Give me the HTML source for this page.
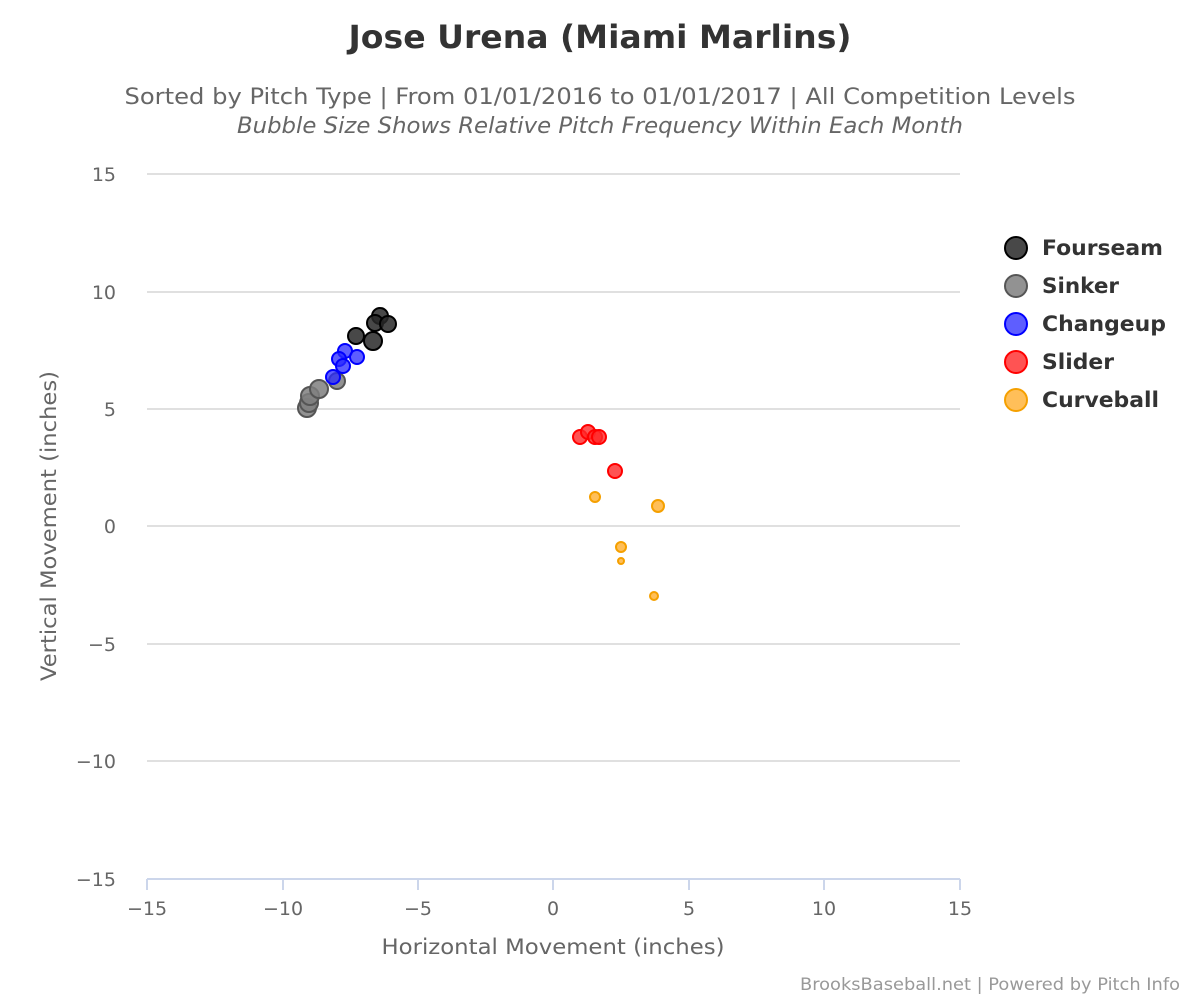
<!DOCTYPE html>
<html><head><meta charset="utf-8"><style>body{margin:0;background:#fff}svg{display:block}text{font-family:"DejaVu Sans","Liberation Sans",sans-serif}</style></head><body>
<svg width="1200" height="1000" xmlns="http://www.w3.org/2000/svg">
<text x="600" y="48" text-anchor="middle" font-size="32" font-weight="bold" fill="#333" textLength="503" lengthAdjust="spacingAndGlyphs">Jose Urena (Miami Marlins)</text>
<text x="600" y="104" text-anchor="middle" font-size="22" fill="#666" textLength="951" lengthAdjust="spacingAndGlyphs">Sorted by Pitch Type | From 01/01/2016 to 01/01/2017 | All Competition Levels</text>
<text x="600" y="133" text-anchor="middle" font-size="22" font-style="italic" fill="#666" textLength="726" lengthAdjust="spacingAndGlyphs">Bubble Size Shows Relative Pitch Frequency Within Each Month</text>
<g stroke="#e0e0e0" stroke-width="2">
<line x1="147" x2="960" y1="174" y2="174"/><line x1="147" x2="960" y1="292" y2="292"/><line x1="147" x2="960" y1="409" y2="409"/><line x1="147" x2="960" y1="526" y2="526"/><line x1="147" x2="960" y1="644" y2="644"/><line x1="147" x2="960" y1="761" y2="761"/></g>
<g stroke="#ccd6eb" stroke-width="2"><line x1="147" x2="960" y1="879" y2="879"/>
<line x1="147" x2="147" y1="879" y2="890"/><line x1="283" x2="283" y1="879" y2="890"/><line x1="418" x2="418" y1="879" y2="890"/><line x1="553" x2="553" y1="879" y2="890"/><line x1="689" x2="689" y1="879" y2="890"/><line x1="824" x2="824" y1="879" y2="890"/><line x1="960" x2="960" y1="879" y2="890"/></g>
<g font-size="19" fill="#666" text-anchor="end">
<text x="116" y="181">15</text><text x="116" y="299">10</text><text x="116" y="416">5</text><text x="116" y="533">0</text><text x="116" y="651">−5</text><text x="116" y="768">−10</text><text x="116" y="886">−15</text></g>
<g font-size="19" fill="#666" text-anchor="middle">
<text x="147" y="915">−15</text><text x="283" y="915">−10</text><text x="418" y="915">−5</text><text x="553" y="915">0</text><text x="689" y="915">5</text><text x="824" y="915">10</text><text x="960" y="915">15</text></g>
<text x="553" y="954" text-anchor="middle" font-size="21" fill="#666" textLength="343" lengthAdjust="spacingAndGlyphs">Horizontal Movement (inches)</text>
<text transform="translate(56,526) rotate(-90)" text-anchor="middle" font-size="21" fill="#666" textLength="310" lengthAdjust="spacingAndGlyphs">Vertical Movement (inches)</text>
<g fill="rgba(127,127,127,0.85)" stroke="#555" stroke-width="2">
<circle cx="307" cy="408" r="9"/><circle cx="309" cy="403" r="9"/><circle cx="310" cy="396" r="9"/><circle cx="319" cy="389" r="9"/><circle cx="337" cy="381" r="8"/></g>
<g fill="rgba(40,40,40,0.85)" stroke="#000" stroke-width="2">
<circle cx="380" cy="316" r="8"/><circle cx="375" cy="323" r="8"/><circle cx="388" cy="324" r="8"/><circle cx="356" cy="336" r="8"/><circle cx="373" cy="341" r="9"/></g>
<g fill="rgba(40,40,255,0.75)" stroke="#00f" stroke-width="2">
<circle cx="345" cy="351" r="7"/><circle cx="339" cy="359" r="7"/><circle cx="357" cy="357" r="7"/><circle cx="343" cy="366" r="7"/><circle cx="333" cy="377" r="7"/></g>
<g fill="rgba(255,40,40,0.8)" stroke="#f00" stroke-width="2">
<circle cx="580" cy="437" r="7"/><circle cx="588" cy="432" r="7"/><circle cx="595" cy="437" r="7"/><circle cx="599" cy="437" r="7"/><circle cx="615" cy="471" r="7"/></g>
<g fill="rgba(255,180,60,0.85)" stroke="#f5a000" stroke-width="2">
<circle cx="595" cy="497" r="5"/><circle cx="658" cy="506" r="6"/><circle cx="621" cy="547" r="5"/><circle cx="621" cy="561" r="3"/><circle cx="654" cy="596" r="4"/></g>
<g font-size="21" font-weight="bold" fill="#333">
<circle cx="1016" cy="248" r="11" fill="rgba(40,40,40,0.85)" stroke="#000" stroke-width="2"/><text x="1042" y="255" textLength="121" lengthAdjust="spacingAndGlyphs">Fourseam</text>
<circle cx="1016" cy="286" r="11" fill="rgba(127,127,127,0.85)" stroke="#555" stroke-width="2"/><text x="1042" y="293" textLength="77" lengthAdjust="spacingAndGlyphs">Sinker</text>
<circle cx="1016" cy="324" r="11" fill="rgba(40,40,255,0.75)" stroke="#00f" stroke-width="2"/><text x="1042" y="331" textLength="124" lengthAdjust="spacingAndGlyphs">Changeup</text>
<circle cx="1016" cy="362" r="11" fill="rgba(255,40,40,0.8)" stroke="#f00" stroke-width="2"/><text x="1042" y="369" textLength="72" lengthAdjust="spacingAndGlyphs">Slider</text>
<circle cx="1016" cy="400" r="11" fill="rgba(255,180,60,0.85)" stroke="#f5a000" stroke-width="2"/><text x="1042" y="407" textLength="117" lengthAdjust="spacingAndGlyphs">Curveball</text></g>
<text x="1180" y="990" text-anchor="end" font-size="17" fill="#999" textLength="380" lengthAdjust="spacingAndGlyphs">BrooksBaseball.net | Powered by Pitch Info</text>
</svg></body></html>
